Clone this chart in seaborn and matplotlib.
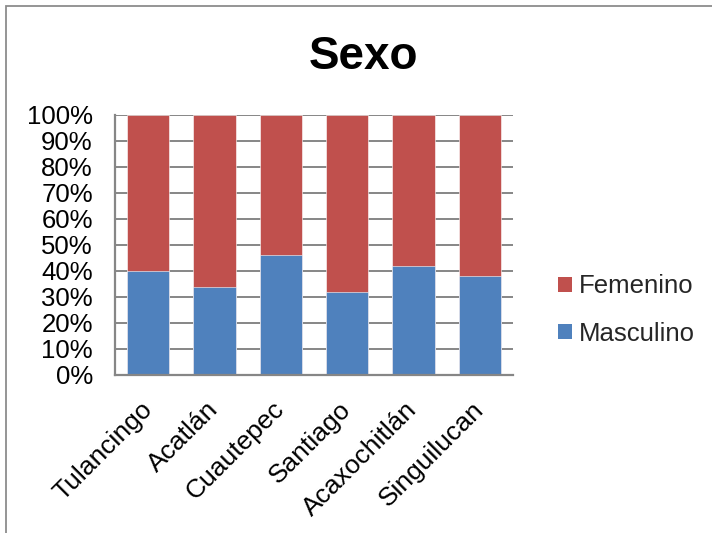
import matplotlib
matplotlib.use("Agg")
import matplotlib.pyplot as plt
from matplotlib.patches import Rectangle, Patch
from matplotlib.ticker import FuncFormatter
import seaborn as sns
import pandas as pd

municipios = ["Tulancingo", "Acatlán", "Cuautepec", "Santiago", "Acaxochitlán", "Singuilucan"]
masculino = [40, 34, 46, 32, 42, 38]
femenino = [60, 66, 54, 68, 58, 62]
yticks = [0, 10, 20, 30, 40, 50, 60, 70, 80, 90, 100]

sns.set_theme(style="white")
plt.rcParams["font.family"] = ["Liberation Sans", "DejaVu Sans"]

RED = "#C0504D"
BLUE = "#4F81BD"
GRID = "#868686"

df = pd.DataFrame({
    "municipio": municipios,
    "masculino": masculino,
    "total": [m + f for m, f in zip(masculino, femenino)],
})

fig = plt.figure(figsize=(7.12, 5.33), dpi=100)
ax = fig.add_axes([115 / 712, 1 - 375 / 533, 398 / 712, 260 / 533])

# stacked bars: full stack in red, masculino share drawn over it in blue
sns.barplot(data=df, x="municipio", y="total", color=RED, width=0.64,
            saturation=1, edgecolor="white", linewidth=0.4, ax=ax, zorder=3)
sns.barplot(data=df, x="municipio", y="masculino", color=BLUE, width=0.64,
            saturation=1, edgecolor="white", linewidth=0.4, ax=ax, zorder=4)

ax.set_ylim(0, 100)
ax.set_xlim(-0.5, len(municipios) - 0.5)
ax.set_yticks(yticks)
ax.yaxis.set_major_formatter(FuncFormatter(lambda v, _: f"{v:.0f}%"))
ax.grid(axis="y", color=GRID, linewidth=1.4, zorder=0)
ax.set_axisbelow(True)
ax.set_xlabel("")
ax.set_ylabel("")

for side in ("top", "right"):
    ax.spines[side].set_visible(False)
for side in ("left", "bottom"):
    ax.spines[side].set_color(GRID)
    ax.spines[side].set_linewidth(1.6)
    ax.spines[side].set_zorder(5)

ax.tick_params(axis="y", length=0, pad=16, labelsize=18.5, labelcolor="black")
ax.tick_params(axis="x", length=0, pad=22, labelsize=19, labelcolor="black")
for lbl in ax.get_xticklabels():
    lbl.set_rotation(45)
    lbl.set_ha("right")
    lbl.set_va("center")
    lbl.set_rotation_mode("anchor")

fig.text(363 / 712, 1 - 57 / 533, "Sexo", ha="center", va="center",
         fontsize=33, fontweight="bold", color="black")

handles = [Patch(facecolor=RED, edgecolor="none", label="Femenino"),
           Patch(facecolor=BLUE, edgecolor="none", label="Masculino")]
fig.legend(handles=handles, loc="center left",
           bbox_to_anchor=(545 / 712, 1 - 310 / 533), frameon=False,
           fontsize=18.5, handlelength=0.55, handleheight=0.55,
           handletextpad=0.25, labelspacing=0.9, borderpad=0)

# chart frame
fig.patches.append(Rectangle((6 / 712, -0.1), 1.2, 1 - 6 / 533 + 0.1,
                             transform=fig.transFigure, fill=False,
                             edgecolor="#8C8C8C", linewidth=1.3))

fig.savefig("out.png", dpi=100)
